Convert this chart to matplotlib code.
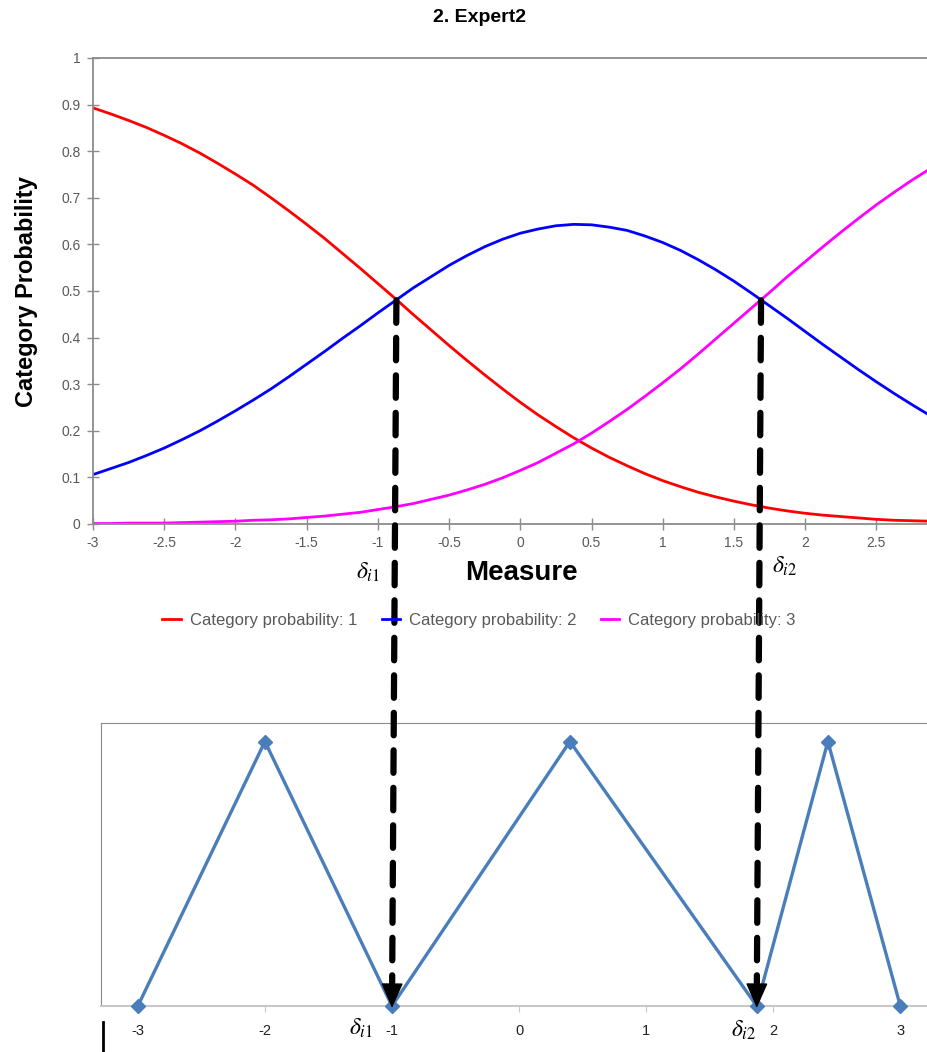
import numpy as np
import matplotlib.pyplot as plt
from matplotlib.patches import ConnectionPatch
from matplotlib.lines import Line2D

# category probability curves (theta step 0.125)
measure = [-3.0, -2.875, -2.75, -2.625, -2.5, -2.375, -2.25, -2.125, -2.0, -1.875,
           -1.75, -1.625, -1.5, -1.375, -1.25, -1.125, -1.0, -0.875, -0.75, -0.625,
           -0.5, -0.375, -0.25, -0.125, 0.0, 0.125, 0.25, 0.375, 0.5, 0.625,
           0.75, 0.875, 1.0, 1.125, 1.25, 1.375, 1.5, 1.625, 1.75, 1.875,
           2.0, 2.125, 2.25, 2.375, 2.5, 2.625, 2.75, 2.875, 3.0]
prob_cat1 = [0.893, 0.880, 0.866, 0.851, 0.834, 0.816, 0.796, 0.774, 0.751, 0.727,
             0.700, 0.672, 0.643, 0.613, 0.581, 0.549, 0.516, 0.483, 0.449, 0.416,
             0.383, 0.351, 0.320, 0.290, 0.261, 0.234, 0.209, 0.185, 0.163, 0.143,
             0.125, 0.108, 0.093, 0.080, 0.068, 0.058, 0.049, 0.041, 0.034, 0.028,
             0.023, 0.019, 0.016, 0.013, 0.010, 0.008, 0.007, 0.006, 0.004]
prob_cat2 = [0.106, 0.119, 0.132, 0.147, 0.163, 0.181, 0.200, 0.221, 0.243, 0.266,
             0.290, 0.316, 0.343, 0.370, 0.398, 0.425, 0.453, 0.480, 0.507, 0.531,
             0.555, 0.576, 0.595, 0.611, 0.624, 0.633, 0.640, 0.643, 0.642, 0.637,
             0.630, 0.618, 0.604, 0.587, 0.567, 0.545, 0.521, 0.495, 0.468, 0.441,
             0.413, 0.385, 0.358, 0.331, 0.305, 0.280, 0.256, 0.233, 0.212]
prob_cat3 = [0.001, 0.001, 0.002, 0.002, 0.002, 0.003, 0.004, 0.005, 0.006, 0.008,
             0.009, 0.011, 0.014, 0.017, 0.021, 0.025, 0.031, 0.037, 0.044, 0.053,
             0.062, 0.073, 0.085, 0.099, 0.115, 0.132, 0.152, 0.172, 0.195, 0.220,
             0.246, 0.274, 0.303, 0.333, 0.365, 0.398, 0.431, 0.464, 0.497, 0.531,
             0.563, 0.595, 0.626, 0.656, 0.685, 0.712, 0.738, 0.762, 0.784]
legend_labels = ["Category probability: 1", "Category probability: 2",
                 "Category probability: 3"]

# thresholds (curve crossings) and where they land on the lower axis
cross_x = [-0.87, 1.69]
cross_y = [0.48, 0.48]
lower_x = [-3, -2, -1, 0.4, 1.87, 2.43, 3]
lower_y = [0, 1, 0, 1, 0, 1, 0]
lower_target = [-1, 1.87]

plt.rcParams["font.family"] = ["Liberation Sans", "DejaVu Sans"]
plt.rcParams["mathtext.fontset"] = "stix"

W, H = 927, 1052
fig = plt.figure(figsize=(W / 100, H / 100), dpi=100)

tick_grey = "#595959"
spine_grey = "#8c8c8c"

# ---- upper panel
ax1 = fig.add_axes([93 / W, 1 - 524 / H, (W - 93) / W, 466 / H])
for vals, col, lab in zip([prob_cat1, prob_cat2, prob_cat3],
                          ["#ff0000", "#0000ff", "#ff00ff"], legend_labels):
    ax1.plot(measure, vals, color=col, lw=2.0, label=lab)
ax1.set_xlim(-3, 2.855)
ax1.set_ylim(0, 1)
ax1.set_xticks([-3, -2.5, -2, -1.5, -1, -0.5, 0, 0.5, 1, 1.5, 2, 2.5])
ax1.set_xticklabels(["-3", "-2.5", "-2", "-1.5", "-1", "-0.5", "0", "0.5",
                     "1", "1.5", "2", "2.5"])
ax1.set_yticks([i / 10 for i in range(11)])
ax1.set_yticklabels(["0", "0.1", "0.2", "0.3", "0.4", "0.5", "0.6", "0.7",
                     "0.8", "0.9", "1"])
ax1.tick_params(direction="inout", length=8, width=1, color=spine_grey,
                labelcolor=tick_grey, labelsize=10, pad=5)
for s in ["left", "bottom", "top"]:
    ax1.spines[s].set_color(spine_grey)
    ax1.spines[s].set_linewidth(1.3)
ax1.spines["right"].set_visible(False)

fig.text(479 / W, 1 - 18 / H, "2. Expert2", ha="center", va="center",
         fontsize=14, fontweight="bold")
fig.text(27 / W, 1 - 292 / H, "Category Probability", rotation=90,
         ha="center", va="center", fontsize=17, fontweight="bold")
fig.text(521 / W, 1 - 573 / H, "Measure", ha="center", va="center",
         fontsize=20, fontweight="bold")

handles, labels = ax1.get_legend_handles_labels()
fig.legend(handles, labels, loc="center", bbox_to_anchor=(479 / W, 1 - 620 / H),
           ncol=3, frameon=False, fontsize=12, handlelength=1.1,
           handletextpad=0.55, columnspacing=1.45, labelcolor=tick_grey)

# ---- lower panel
ax2 = fig.add_axes([101 / W, 1 - 1006 / H, (W - 101) / W, 283 / H])
ax2.plot(lower_x, lower_y, color="#4a7ebb", lw=2.4, marker="D", markersize=7.5,
         markeredgecolor="#4a7ebb", clip_on=False, zorder=3)
ax2.set_xlim(-3.29, 3.21)
ax2.set_ylim(0, 1.07)
ax2.set_xticks([-3, -2, -1, 0, 1, 2, 3])
ax2.set_xticklabels(["-3", "-2", "-1", "0", "1", "2", "3"])
ax2.set_yticks([])
ax2.tick_params(axis="x", direction="out", length=4, color="#c8c8c8",
                labelcolor="#202020", labelsize=10.5, pad=9)
ax2.spines["left"].set_color(spine_grey)
ax2.spines["top"].set_color(spine_grey)
ax2.spines["bottom"].set_color("#c8c8c8")
ax2.spines["bottom"].set_linewidth(1.5)
ax2.spines["right"].set_visible(False)

# threshold labels
for (x, y, s) in [(368, 572, r"$\delta_{i1}$"), (785, 566, r"$\delta_{i2}$"),
                  (361, 1028, r"$\delta_{i1}$"), (744, 1030, r"$\delta_{i2}$")]:
    fig.text(x / W, 1 - y / H, s, ha="center", va="center", fontsize=17)

# dashed arrows linking the crossings to the lower axis
for cx, cy, tx in zip(cross_x, cross_y, lower_target):
    pa = ax1.transData.transform((cx, cy))
    pb = ax2.transData.transform((tx, 0))
    d = (pb - pa) / np.hypot(*(pb - pa))
    pstart = pb - d * 26
    con = ConnectionPatch(xyA=tuple(pa), coordsA="figure pixels",
                          xyB=tuple(pb - d * 8), coordsB="figure pixels",
                          color="black", lw=4.5, linestyle=(0, (3.6, 2.4)),
                          arrowstyle="-", zorder=5)
    fig.add_artist(con)
    head = ConnectionPatch(xyA=tuple(pstart), coordsA="figure pixels",
                           xyB=tuple(pb + d * 2), coordsB="figure pixels",
                           color="black", lw=1,
                           arrowstyle="-|>,head_length=0.8,head_width=0.35",
                           mutation_scale=20, zorder=6)
    fig.add_artist(head)

fig.add_artist(Line2D([103 / W, 103 / W], [1 - 1022 / H, 0], color="black",
                      lw=2, transform=fig.transFigure))

fig.savefig("out.png", dpi=100)
